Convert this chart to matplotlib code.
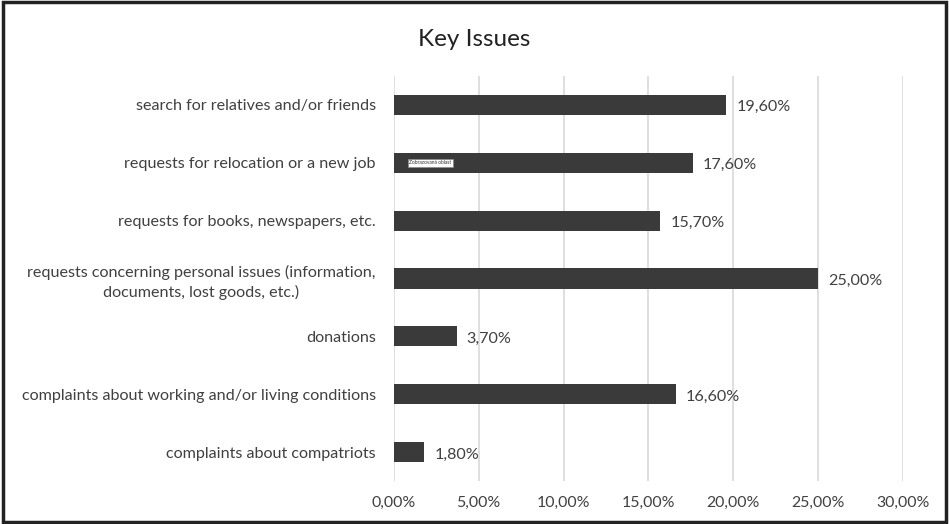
import matplotlib.pyplot as plt
from matplotlib.patches import Rectangle

# data (top to bottom as shown)
categories = [
    "search for relatives and/or friends",
    "requests for relocation or a new job",
    "requests for books, newspapers, etc.",
    "requests concerning personal issues (information,\ndocuments, lost goods, etc.)",
    "donations",
    "complaints about working and/or living conditions",
    "complaints about compatriots",
]
values = [19.6, 17.6, 15.7, 25.0, 3.7, 16.6, 1.8]
ticks = [0, 5, 10, 15, 20, 25, 30]

plt.rcParams['font.family'] = ['Lato', 'DejaVu Sans']

fig = plt.figure(figsize=(9.49, 5.24), dpi=100)
ax = fig.add_axes([0.415, 0.082, 0.5365, 0.773])

pos = list(range(len(categories)))
ax.barh(pos, values, height=0.35, color='#3a3a3a', zorder=3)
ax.set_ylim(len(categories) - 0.5, -0.5)
ax.set_xlim(0, 30)

for p, v in zip(pos, values):
    ax.text(v + 0.6, p + 0.04, f"{v:.2f}".replace('.', ',') + "%", va='center', ha='left',
            fontsize=11.6, color='#404040')

ax.set_yticks(pos)
ax.set_yticklabels(categories, fontsize=11.6, color='#404040')
ax.tick_params(axis='y', length=0, pad=13)
for lbl in ax.get_yticklabels():
    lbl.set_multialignment('center')
    lbl.set_linespacing(1.45)
ax.set_xticks(ticks)
ax.set_xticklabels([f"{t:.2f}".replace('.', ',') + "%" for t in ticks], fontsize=11.4, color='#404040')
ax.tick_params(axis='x', length=0, pad=11)

ax.grid(axis='x', color='#d9d9d9', linewidth=1.2, zorder=0)
for s in ax.spines.values():
    s.set_visible(False)

# little tooltip left in the screenshot
ax.text(0.9, 1, "Zobrazovaná oblast", fontsize=3.5, va='center', ha='left', color='#333333',
        bbox=dict(boxstyle='square,pad=0.3', fc='white', ec='#888888', lw=0.5), zorder=5)

fig.text(0.5, 0.925, "Key Issues", ha='center', va='center', fontsize=17.5, color='#222222')

fig.patches.append(Rectangle((0.003, 0.003), 0.994, 0.994, transform=fig.transFigure,
                             fill=False, ec='#222222', lw=2.5))

fig.savefig('out.png', dpi=100)
